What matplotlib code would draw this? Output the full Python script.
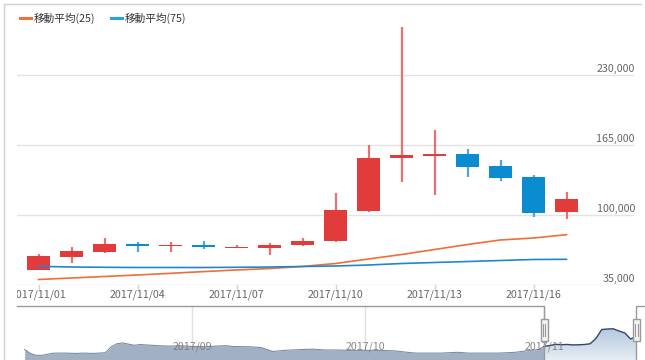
import numpy as np
import pandas as pd
import matplotlib
matplotlib.use("Agg")
import matplotlib.pyplot as plt
from matplotlib.lines import Line2D
from matplotlib.patches import Rectangle
from matplotlib.colors import LinearSegmentedColormap
from matplotlib.transforms import Bbox, TransformedBbox, offset_copy, blended_transform_factory, IdentityTransform

plt.rcParams['font.family'] = ['Noto Sans CJK JP', 'DejaVu Sans']

# ---------------- data ----------------
dates = ["2017/11/01", "2017/11/02", "2017/11/03", "2017/11/04", "2017/11/05", "2017/11/06",
         "2017/11/07", "2017/11/08", "2017/11/09", "2017/11/10", "2017/11/11", "2017/11/12",
         "2017/11/13", "2017/11/14", "2017/11/15", "2017/11/16", "2017/11/17"]
opens  = [49200, 61000, 65900, 73100, 70800, 72300, 69650, 69350, 71900, 75600,
          104000, 152600, 155050, 156650, 145500, 135000, 103050]
highs  = [63800, 70000, 78400, 74650, 75200, 75500, 72150, 74000, 78650, 120400,
          165000, 274300, 178900, 161300, 151050, 137150, 121650]
lows   = [48900, 55150, 64450, 65400, 65400, 68500, 69100, 62850, 71600, 74650,
          102500, 130400, 118600, 135600, 131850, 98400, 96300]
closes = [61650, 66600, 73100, 70950, 72300, 70000, 70550, 72150, 76150, 104900,
          152900, 155700, 156900, 144850, 134350, 102150, 114850]
ma25 = [40100, 41500, 42900, 44300, 45850, 47450, 48950, 50300, 52200, 54950,
        59150, 63300, 67950, 72600, 76800, 78650, 81700]
ma75 = [52350, 51700, 51450, 51250, 51250, 51250, 51450, 51700, 52200, 52650,
        53550, 54950, 55900, 56800, 57750, 58700, 58850]
legend_labels = ["移動平均(25)", "移動平均(75)"]
y_ticks = [35000, 100000, 165000, 230000]
x_tick_idx = [0, 3, 6, 9, 12, 15]

# navigator (days since 2017/08/01, close values)
nav_start = "2017/08/01"
nav_days = [2, 3, 4, 5, 6, 7, 9, 11, 12, 14, 16, 17, 18, 19, 20, 21, 22, 23, 25, 27,
            29, 31, 32, 34, 35, 37, 38, 41, 43, 45, 47, 50, 52, 54, 56, 58, 61, 63, 66,
            67, 69, 70, 74, 77, 79, 84, 87, 89, 91]
nav_vals = [45000, 24000, 13600, 13600, 19600, 25700, 25700, 24000, 25700, 24000, 27900,
            59800, 76200, 80600, 74000, 68000, 72000, 70000, 65800, 63600, 65800, 61400,
            61400, 59800, 63600, 65800, 61400, 59800, 55400, 34500, 40500, 45000, 47000,
            42700, 42700, 40500, 40500, 40500, 38300, 34500, 27900, 25700, 25700, 30000,
            25700, 25700, 30000, 38300, 45000]
nav_months = ["2017/09/01", "2017/10/01", "2017/11/01"]
nav_month_labels = ["2017/09", "2017/10", "2017/11"]

# ---------------- figure ----------------
W, H = 645, 360
fig = plt.figure(figsize=(W / 100, H / 100), dpi=100)
fig.patch.set_facecolor("white")


def px_axes(l, t, r, b):
    return fig.add_axes([l / W, 1 - b / H, (r - l) / W, (b - t) / H])


RED, BLUE = "#e23b3b", "#0b8bd0"
RED_W, BLUE_W = "#ea7070", "#4aa8de"
C25, C75 = "#ec6e38", "#1f88c9"
TXT = "#666666"
FS = 7.7

ax = px_axes(17, 5, 634, 285)
ax.set_xlim(-0.6515, 18.045)
ax.set_ylim(35000, 295000)
ax.axis("off")

x = np.arange(len(dates))
for v in y_ticks:
    ax.axhline(v, color="#e3e3e3" if v != y_ticks[0] else "#d6d6d6", lw=1.0, zorder=0)

# candles
o = np.array(opens); c = np.array(closes); hi = np.array(highs); lo = np.array(lows)
up = c >= o
ax.vlines(x, lo, hi, colors=[RED_W if u else BLUE_W for u in up], lw=1.6, zorder=2)
ax.bar(x, np.abs(c - o), bottom=np.minimum(o, c), width=0.697,
       color=[RED if u else BLUE for u in up], zorder=3, linewidth=0)

# moving averages
ax.plot(x, ma25, color=C25, lw=1.2, zorder=4)
ax.plot(x, ma75, color=C75, lw=1.2, zorder=4)

# x ticks and labels
xtr = ax.get_xaxis_transform()
clipbox = TransformedBbox(Bbox([[0, -0.3], [1, 1]]), ax.transAxes)
for i in x_tick_idx:
    ax.plot([x[i], x[i]], [0, -5 / 280], transform=xtr, color="#d6d6d6", lw=1, clip_on=False)
    t = ax.text(x[i], -10 / 280, dates[i], transform=xtr, ha="center", va="center",
                fontsize=FS, color=TXT, clip_on=True)
    t.set_clip_box(clipbox)

# y labels (right, above gridline)
ytr = blended_transform_factory(ax.transAxes, ax.transData)
ytr_off = offset_copy(ytr, fig=fig, x=1, y=3, units="dots")
for v in y_ticks:
    ax.text(1.0, v, f"{v:,}", transform=ytr_off, ha="right", va="baseline",
            fontsize=FS, color=TXT)

# legend
handles = [Line2D([], [], color="#f0703c", lw=2.2), Line2D([], [], color="#27a4e0", lw=2.2)]
ax.legend(handles, legend_labels, loc="upper left", bbox_to_anchor=(20 / W, 1 - 13 / H),
          bbox_transform=fig.transFigure, ncol=2, frameon=False, handlelength=1.0,
          handletextpad=0.3, columnspacing=1.45, borderpad=0, borderaxespad=0,
          fontsize=FS, labelcolor="#333333")

# ---------------- navigator ----------------
nav = px_axes(17, 306, 645, 360)
nav.set_xlim(0.676, 109.5)
NAV_LO, NAV_HI = -11400, 279800
nav.set_ylim(NAV_LO, NAV_HI)
nav.axis("off")

start = pd.Timestamp(nav_start)
sel_days = np.array([(pd.Timestamp(d) - start).days for d in dates])
month_days = [(pd.Timestamp(d) - start).days for d in nav_months]

for md in month_days:
    nav.axvline(md, color="#e0e0e0", lw=1, zorder=0)

un_d = np.array(nav_days + [sel_days[0]])
un_v = np.array(nav_vals + [closes[0]])
nav.fill_between(un_d, un_v, NAV_LO, color="#a2b0c4", lw=0, zorder=1)
nav.plot(un_d, un_v, color="#7d8da6", lw=0.8, zorder=2)

# selected part with gradient
sel_v = np.array(closes)
poly = nav.fill_between(sel_days, sel_v, NAV_LO, color="none", lw=0)
grad = np.linspace(0, 1, 100).reshape(-1, 1)
cmap = LinearSegmentedColormap.from_list("g", ["#e6edf5", "#b3c8df"])
im = nav.imshow(grad, extent=[sel_days[0], sel_days[-1], NAV_LO, max(closes)], aspect="auto",
                cmap=cmap, origin="lower", zorder=1)
im.set_clip_path(poly.get_paths()[0], transform=nav.transData)
nav.plot(sel_days, sel_v, color="#34466a", lw=1.0, zorder=3)

for md, lab in zip(month_days, nav_month_labels):
    nav.text(md, 0.24, lab, transform=nav.get_xaxis_transform(), ha="center", va="center",
             fontsize=FS, color="#7a7a7a", alpha=0.9, zorder=4)

# outline
ntr = nav.get_xaxis_transform()
xl, xr = nav.get_xlim()
nav.plot([xl, sel_days[0], sel_days[0], sel_days[-1], sel_days[-1], xr],
         [1, 1, -0.1, -0.1, 1, 1], transform=ntr, color="#9a9a9a", lw=1, zorder=5,
         clip_on=False)

# handles
for d in (sel_days[0], sel_days[-1]):
    cx = nav.transData.transform((d, 0))[0]
    rect = Rectangle((cx - 3.5, H - 341), 7, 22, facecolor="#f4f4f4", edgecolor="#9a9a9a",
                     lw=1, transform=IdentityTransform(), zorder=6)
    fig.patches.append(rect)
    for dx in (-1.2, 1.2):
        fig.lines.append(Line2D([cx + dx, cx + dx], [H - 336, H - 324], color="#9a9a9a",
                                lw=0.8, transform=IdentityTransform(), zorder=7))

# chart border
fig.lines.append(Line2D([3.5, 3.5], [0, H - 3.5], color="#d0d0d0", lw=1,
                        transform=IdentityTransform()))
fig.lines.append(Line2D([3.5, W - 4], [H - 3.5, H - 3.5], color="#d0d0d0", lw=1,
                        transform=IdentityTransform()))

fig.savefig("out.png", dpi=100, facecolor="white")
